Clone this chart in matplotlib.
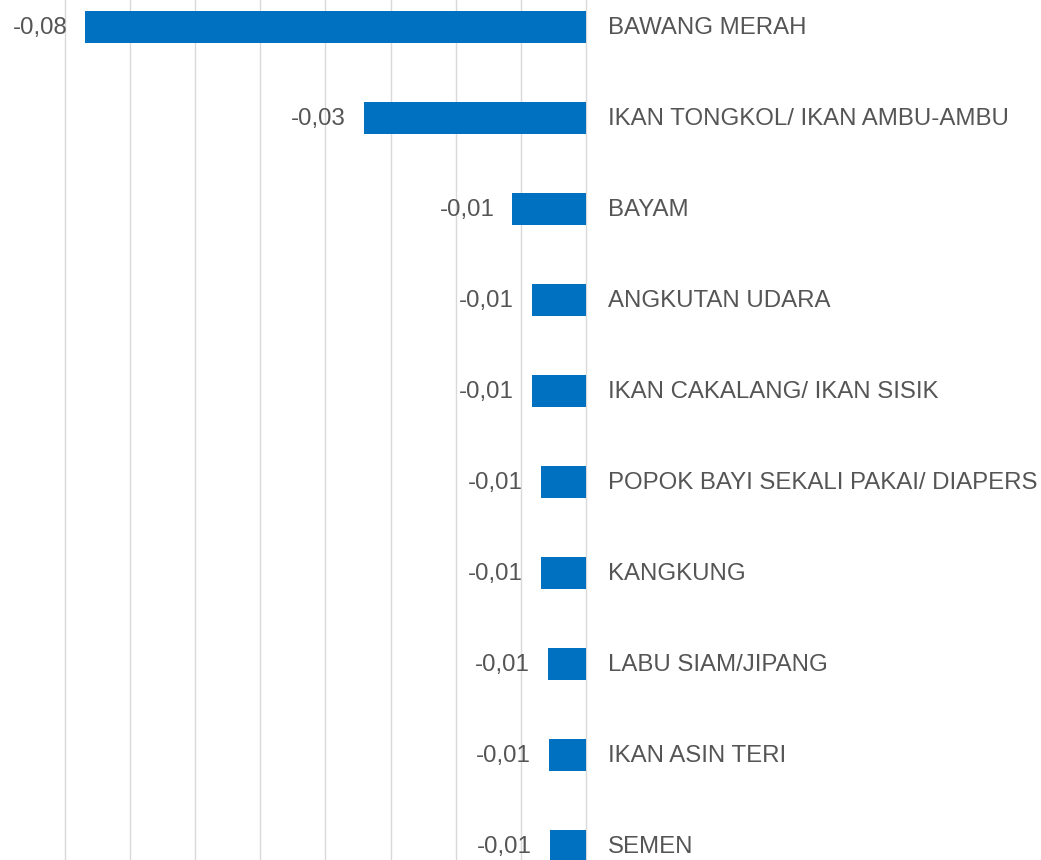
import numpy as np
import matplotlib
matplotlib.use('Agg')
import matplotlib.pyplot as plt

plt.rcParams['font.family'] = ['Liberation Sans', 'DejaVu Sans']

# komoditas dan nilai andil
komoditas = ['BAWANG MERAH', 'IKAN TONGKOL/ IKAN AMBU-AMBU', 'BAYAM', 'ANGKUTAN UDARA',
             'IKAN CAKALANG/ IKAN SISIK', 'POPOK BAYI SEKALI PAKAI/ DIAPERS', 'KANGKUNG',
             'LABU SIAM/JIPANG', 'IKAN ASIN TERI', 'SEMEN']
andil = [-0.0769, -0.0341, -0.0113, -0.0083, -0.0083, -0.0069, -0.0069, -0.0058, -0.0057, -0.0056]

warna_bar = '#0070C0'
warna_teks = '#555555'

fig = plt.figure(figsize=(10.41, 8.6), dpi=100)
ax = fig.add_axes([0, 0, 1, 1])

y = np.arange(len(komoditas))
ax.barh(y, andil, height=0.35, color=warna_bar, zorder=2)

# skala: 0 di x=586 px, 65.125 px per 0.01
ax.set_xlim(-586 / 6512.5, (1041 - 586) / 6512.5)
ax.set_ylim(9.154, -0.293)

ax.set_xticks(np.arange(-0.08, 0.0001, 0.01))
ax.set_yticks([])
ax.tick_params(axis='x', length=0, labelbottom=False)
ax.grid(axis='x', color='#D9D9D9', linewidth=1, zorder=0)
for s in ax.spines.values():
    s.set_visible(False)

for yi, v, nama in zip(y, andil, komoditas):
    label = f'{v:.2f}'.replace('.', ',')
    ax.annotate(label, (v, yi), xytext=(-13, -0.7), textcoords='offset points',
                ha='right', va='center', fontsize=17.3, color=warna_teks)
    ax.annotate(nama, (0, yi), xytext=(15.5, -0.7), textcoords='offset points',
                ha='left', va='center', fontsize=17.3, color=warna_teks)

fig.savefig('out.png', dpi=100)
